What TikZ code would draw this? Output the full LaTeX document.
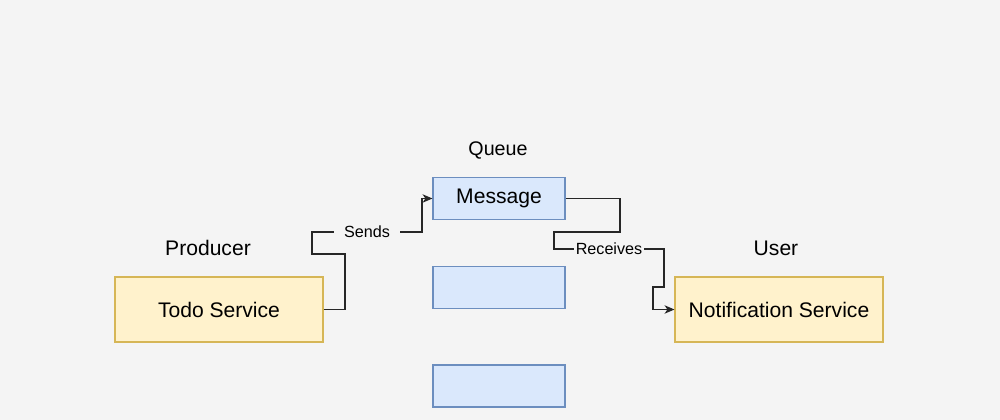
\documentclass[tikz,border=0pt]{standalone}
\usepackage{fontspec}
\setmainfont{Liberation Sans}
\usetikzlibrary{arrows.meta}
\definecolor{bgcol}{HTML}{F4F4F4}
\definecolor{svcfill}{HTML}{FFF2CC}
\definecolor{svcline}{HTML}{D6B656}
\definecolor{qfill}{HTML}{DAE8FC}
\definecolor{qline}{HTML}{6C8EBF}
\tikzset{
  svcbox/.style={draw=svcline, fill=svcfill, line width=0.8pt, minimum width=5.2cm, minimum height=1.625cm, font=\fontsize{15}{18}\selectfont},
  qbox/.style={draw=qline, fill=qfill, line width=0.8pt, minimum width=3.3cm, minimum height=1.05cm, font=\fontsize{15}{18}\selectfont},
  title/.style={font=\fontsize{15}{18}\selectfont},
  flow/.style={draw=black!85, line width=0.8pt, -{Stealth[length=7pt,width=6pt,inset=2pt]}},
  lbl/.style={fill=bgcol, inner sep=1pt, font=\fontsize{11.5}{14}\selectfont}
}
\begin{document}
\begin{tikzpicture}[x=0.025cm, y=-0.025cm]
  % Background
  \fill[bgcol] (0,0) rectangle (1000,420);

  % Producer
  \node[title] (prodlbl) at (208,248) {Producer};
  \node[svcbox] (todo) at (219,309.5) {Todo Service};

  % Queue
  \node[title, font=\fontsize{14}{17}\selectfont] (queuelbl) at (498,150) {Queue};
  \node[qbox] (msg) at (499,198.5) {Message};
  \node[qbox] (slot2) at (499,287.5) {};
  \node[qbox] (slot3) at (499,386) {};

  % User
  \node[title] (userlbl) at (776,248) {User};
  \node[svcbox] (notif) at (779,309.5) {Notification Service};

  % Bends
  \coordinate (sA) at (345,254);
  \coordinate (sB) at (312,232);
  \coordinate (sC) at (422,232);
  \coordinate (rA) at (620,232);
  \coordinate (rB) at (554,249);
  \coordinate (rC) at (664,249);
  \coordinate (rD) at (653,287);

  % Sends
  \draw[flow] (todo.east) -| (sA) -| (sB) -- (sC) node[midway, lbl, inner xsep=7pt] {Sends} |- (msg.west);
  % Receives
  \draw[flow] (msg.east) -| (rA) -| (rB) -- (rC) node[midway, lbl] {Receives} |- (rD) |- (notif.west);
\end{tikzpicture}
\end{document}
